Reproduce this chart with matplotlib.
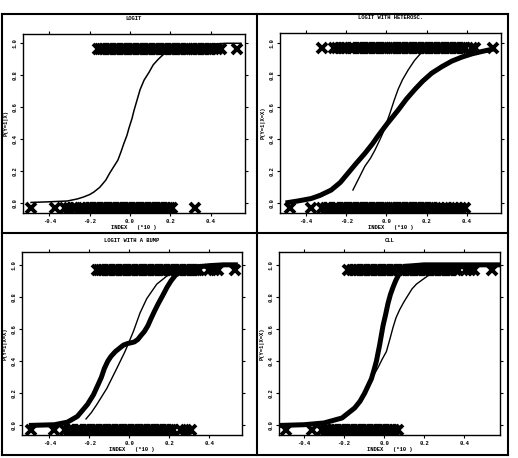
import matplotlib.pyplot as plt
from matplotlib.lines import Line2D

# ---- data ----
titles = ["LOGIT", "LOGIT WITH HETEROSC.", "LOGIT WITH A BUMP", "CLL"]
ylabels = ["P(Y=1|X)", "P(Y=1|X=X)", "P(Y=1|X=X)", "P(Y=1|X=X)"]
xticks = [-0.4, -0.2, 0.0, 0.2, 0.4]
xticklabels = ["-0.4", "-0.2", "0.0", "0.2", "0.4"]
yticks = [0.0, 0.2, 0.4, 0.6, 0.8, 1.0]
yticklabels = ["0.0", "0.2", "0.4", "0.6", "0.8", "1.0"]

# observations with Y=1 (top band) and Y=0 (bottom band), index values
p1_y1 = [-0.16, -0.15, -0.14, -0.13, -0.11, -0.10, -0.09, -0.08, -0.07, -0.06, -0.04, -0.03,
         -0.02, -0.01, 0.0, 0.01, 0.02, 0.04, 0.05, 0.06, 0.07, 0.08, 0.09, 0.10, 0.12, 0.13,
         0.14, 0.15, 0.16, 0.17, 0.18, 0.20, 0.21, 0.22, 0.23, 0.24, 0.25, 0.26, 0.28, 0.29,
         0.30, 0.31, 0.32, 0.33, 0.34, 0.36, 0.37, 0.38, 0.39, 0.40, 0.43, 0.45, 0.53]
p1_y0 = [-0.49, -0.37, -0.32, -0.30, -0.28, -0.27, -0.25, -0.23, -0.21, -0.20, -0.19, -0.18,
         -0.17, -0.16, -0.14, -0.13, -0.12, -0.11, -0.10, -0.09, -0.08, -0.06, -0.05, -0.04,
         -0.03, -0.02, -0.01, 0.0, 0.02, 0.03, 0.04, 0.05, 0.06, 0.07, 0.08, 0.10, 0.11, 0.12,
         0.13, 0.14, 0.15, 0.16, 0.18, 0.19, 0.20, 0.21, 0.32]

p2_y1 = [-0.32, -0.26, -0.245, -0.23, -0.215, -0.20, -0.18, -0.17, -0.16, -0.14, -0.13, -0.12,
         -0.11, -0.10, -0.09, -0.08, -0.06, -0.05, -0.04, -0.03, -0.02, -0.01, 0.0, 0.02, 0.03,
         0.04, 0.05, 0.06, 0.07, 0.08, 0.10, 0.11, 0.12, 0.13, 0.14, 0.15, 0.16, 0.18, 0.19,
         0.20, 0.21, 0.22, 0.23, 0.24, 0.26, 0.27, 0.28, 0.29, 0.30, 0.31, 0.32, 0.34, 0.35,
         0.36, 0.37, 0.38, 0.39, 0.425, 0.44, 0.53]
p2_y0 = [-0.48, -0.375, -0.32, -0.30, -0.29, -0.28, -0.26, -0.25, -0.24, -0.22, -0.21, -0.20,
         -0.19, -0.18, -0.17, -0.16, -0.14, -0.13, -0.12, -0.11, -0.10, -0.09, -0.08, -0.06,
         -0.05, -0.04, -0.03, -0.02, -0.01, 0.0, 0.02, 0.03, 0.04, 0.05, 0.06, 0.07, 0.08, 0.10,
         0.11, 0.12, 0.13, 0.14, 0.15, 0.16, 0.18, 0.19, 0.20, 0.21, 0.22, 0.23, 0.26, 0.28,
         0.30, 0.33, 0.35, 0.37, 0.39]

p3_y1 = [-0.16, -0.15, -0.14, -0.13, -0.11, -0.10, -0.09, -0.08, -0.07, -0.06, -0.04, -0.03,
         -0.02, -0.01, 0.0, 0.01, 0.02, 0.04, 0.05, 0.06, 0.07, 0.08, 0.09, 0.10, 0.12, 0.13,
         0.14, 0.15, 0.16, 0.17, 0.18, 0.20, 0.21, 0.22, 0.23, 0.24, 0.25, 0.26, 0.28, 0.29,
         0.30, 0.31, 0.32, 0.33, 0.34, 0.35, 0.40, 0.425, 0.445, 0.53]
p3_y0 = [-0.49, -0.375, -0.32, -0.30, -0.29, -0.28, -0.26, -0.25, -0.24, -0.22, -0.21, -0.20,
         -0.19, -0.18, -0.17, -0.16, -0.14, -0.13, -0.12, -0.11, -0.10, -0.09, -0.08, -0.06,
         -0.05, -0.04, -0.03, -0.02, -0.01, 0.0, 0.02, 0.03, 0.04, 0.05, 0.06, 0.07, 0.08, 0.10,
         0.11, 0.12, 0.13, 0.14, 0.15, 0.16, 0.18, 0.19, 0.20, 0.21, 0.22, 0.26, 0.285, 0.31]

p4_y1 = [-0.18, -0.16, -0.15, -0.14, -0.13, -0.11, -0.10, -0.09, -0.08, -0.07, -0.06, -0.04,
         -0.03, -0.02, -0.01, 0.0, 0.01, 0.02, 0.04, 0.05, 0.06, 0.07, 0.08, 0.09, 0.10, 0.12,
         0.13, 0.14, 0.15, 0.16, 0.17, 0.18, 0.20, 0.21, 0.22, 0.23, 0.24, 0.25, 0.26, 0.28,
         0.29, 0.30, 0.31, 0.32, 0.33, 0.34, 0.36, 0.37, 0.41, 0.43, 0.45, 0.54]
p4_y0 = [-0.49, -0.36, -0.31, -0.29, -0.27, -0.26, -0.25, -0.24, -0.22, -0.21, -0.20, -0.19,
         -0.18, -0.17, -0.16, -0.14, -0.13, -0.12, -0.11, -0.10, -0.09, -0.08, -0.06, -0.05,
         -0.04, -0.03, -0.02, -0.01, 0.0, 0.02, 0.03, 0.04, 0.05, 0.07]

# fitted curves (thin = logit fit, thick = true curve)
p1_thin_x = [-0.49, -0.40, -0.31, -0.26, -0.23, -0.20, -0.18, -0.15, -0.12, -0.10, -0.08,
             -0.06, -0.045, -0.03, -0.015, -0.005, 0.01, 0.02, 0.035, 0.05, 0.07, 0.095, 0.115,
             0.14, 0.165, 0.19, 0.22, 0.25, 0.32, 0.40, 0.48, 0.55]
p1_thin_y = [0.006, 0.010, 0.015, 0.028, 0.04, 0.055, 0.07, 0.10, 0.145, 0.19, 0.23,
             0.27, 0.32, 0.375, 0.425, 0.47, 0.53, 0.58, 0.645, 0.71, 0.77, 0.82, 0.865,
             0.90, 0.93, 0.95, 0.965, 0.975, 0.99, 0.995, 1.0, 1.0]

p2_thick_x = [-0.49, -0.44, -0.375, -0.33, -0.275, -0.23, -0.19, -0.15, -0.108, -0.07, -0.042,
              0.0, 0.058, 0.10, 0.142, 0.18, 0.225, 0.275, 0.325, 0.375, 0.425, 0.475, 0.53]
p2_thick_y = [0.005, 0.015, 0.03, 0.05, 0.083, 0.13, 0.19, 0.25, 0.31, 0.37, 0.42, 0.49,
              0.58, 0.65, 0.71, 0.76, 0.81, 0.85, 0.885, 0.91, 0.93, 0.945, 0.96]
p2_thin_x = [-0.167, -0.14, -0.108, -0.08, -0.058, -0.035, -0.017, 0.0, 0.017, 0.038, 0.058,
             0.08, 0.108, 0.14, 0.175]
p2_thin_y = [0.083, 0.15, 0.23, 0.28, 0.33, 0.39, 0.44, 0.50, 0.56, 0.64, 0.71, 0.77, 0.83,
             0.89, 0.94]

p3_thick_x = [-0.49, -0.375, -0.31, -0.26, -0.21, -0.18, -0.158, -0.14, -0.125, -0.108, -0.092,
              -0.07, -0.05, -0.03, -0.008, 0.01, 0.025, 0.042, 0.058, 0.075, 0.092, 0.108, 0.125,
              0.145, 0.167, 0.188, 0.208, 0.23, 0.258, 0.32, 0.40, 0.47, 0.53]
p3_thick_y = [0.0, 0.004, 0.02, 0.056, 0.13, 0.19, 0.25, 0.30, 0.355, 0.40, 0.43, 0.46, 0.48,
              0.50, 0.51, 0.515, 0.52, 0.535, 0.56, 0.585, 0.62, 0.665, 0.71, 0.76, 0.81, 0.86,
              0.90, 0.935, 0.96, 0.985, 0.995, 1.0, 1.0]
p3_thin_x = [-0.217, -0.19, -0.163, -0.113, -0.063, -0.022, 0.02, 0.053, 0.087, 0.137, 0.187, 0.24]
p3_thin_y = [0.04, 0.08, 0.13, 0.23, 0.355, 0.46, 0.585, 0.70, 0.79, 0.88, 0.93, 0.96]

p4_thick_x = [-0.51, -0.40, -0.30, -0.21, -0.147, -0.12, -0.097, -0.08, -0.063, -0.05, -0.038,
              -0.022, -0.005, 0.008, 0.02, 0.032, 0.045, 0.058, 0.07, 0.085, 0.103, 0.20, 0.35, 0.57]
p4_thick_y = [0.0, 0.004, 0.015, 0.046, 0.108, 0.15, 0.20, 0.245, 0.29, 0.345, 0.40,
              0.50, 0.62, 0.69, 0.76, 0.815, 0.86, 0.90, 0.93, 0.965, 0.99, 1.0, 1.0, 1.0]
p4_thin_x = [-0.20, -0.15, -0.10, -0.08, -0.055, -0.03, -0.01, 0.012, 0.03, 0.045, 0.06, 0.078,
             0.10, 0.12, 0.14, 0.162, 0.195, 0.24]
p4_thin_y = [0.045, 0.10, 0.19, 0.25, 0.305, 0.36, 0.41, 0.46, 0.54, 0.61, 0.67, 0.72,
             0.77, 0.81, 0.85, 0.88, 0.91, 0.95]

W, H = 518, 458
fig = plt.figure(figsize=(W / 100, H / 100), dpi=100)
font = 'Liberation Mono'


def px_rect(l, t, r, b):
    return [l / W, 1 - b / H, (r - l) / W, (b - t) / H]


def panel(rect, title, ylab, y1, y0, curves, xlim, ylim, tpad):
    ax = fig.add_axes(px_rect(*rect))
    for xs, ys, lw in curves:
        ax.plot(xs, ys, color='black', lw=lw, solid_joinstyle='round', zorder=2)
    ax.plot(y1, [0.965] * len(y1), ls='none', marker='x', ms=7, mew=2.8, color='black', zorder=3)
    ax.plot(y0, [-0.03] * len(y0), ls='none', marker='x', ms=7, mew=2.8, color='black', zorder=3)
    ax.set_xlim(*xlim)
    ax.set_ylim(*ylim)
    ax.set_xticks(xticks)
    ax.set_xticklabels(xticklabels, fontsize=4, family=font, weight='bold')
    ax.set_yticks(yticks)
    ax.set_yticklabels(yticklabels, fontsize=4, family=font, weight='bold',
                       rotation=90, va='center')
    ax.tick_params(direction='out', length=2.5, width=0.8, top=True, right=True, pad=1.5)
    for s in ax.spines.values():
        s.set_linewidth(1.0)
    ax.set_title(title, fontsize=4, family=font, weight='bold', pad=tpad)
    ax.set_ylabel(ylab, fontsize=4, family=font, weight='bold', labelpad=3)
    ax.set_xlabel("INDEX   (*10 )", fontsize=4, family=font, weight='bold', labelpad=1)
    return ax


panel((23, 34, 245, 213), titles[0], ylabels[0], p1_y1, p1_y0,
      [(p1_thin_x, p1_thin_y, 1.1)], (-0.53, 0.57), (-0.06, 1.058), 10)
panel((280, 33, 501, 213), titles[1], ylabels[1], p2_y1, p2_y0,
      [(p2_thick_x, p2_thick_y, 3.6), (p2_thin_x, p2_thin_y, 1.0)], (-0.53, 0.57), (-0.06, 1.06), 10)
panel((22, 252, 242, 435), titles[2], ylabels[2], p3_y1, p3_y0,
      [(p3_thick_x, p3_thick_y, 3.6), (p3_thin_x, p3_thin_y, 1.0)], (-0.537, 0.563), (-0.06, 1.08), 7)
panel((279, 252, 500, 435), titles[3], ylabels[3], p4_y1, p4_y0,
      [(p4_thick_x, p4_thick_y, 3.6), (p4_thin_x, p4_thin_y, 1.0)], (-0.525, 0.58), (-0.06, 1.08), 7)

# outer frame and dividers
def fline(x0, y0, x1, y1):
    fig.add_artist(Line2D([x0 / W, x1 / W], [1 - y0 / H, 1 - y1 / H], color='black', lw=1.5))


fline(2, 14, 508, 14)
fline(2, 455, 508, 455)
fline(2, 14, 2, 455)
fline(508, 14, 508, 455)
fline(257, 14, 257, 455)
fline(2, 233, 508, 233)

fig.savefig('out.png', dpi=100, facecolor='white')
